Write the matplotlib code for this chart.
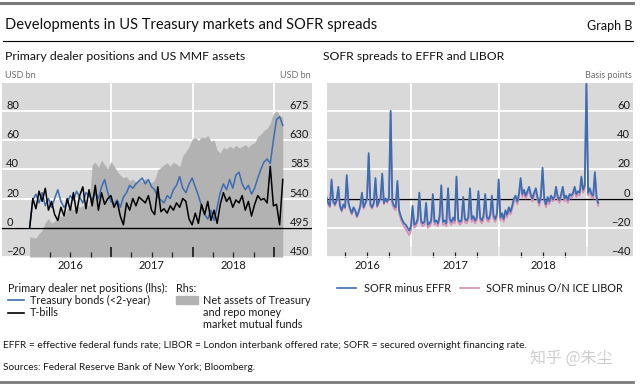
import numpy as np
import pandas as pd
import matplotlib
matplotlib.use('Agg')
import matplotlib.pyplot as plt
import matplotlib.dates as mdates
from matplotlib.lines import Line2D
from matplotlib.patches import Rectangle

plt.rcParams['font.family'] = ['Lato', 'DejaVu Sans']

# ---- left panel: primary dealer positions (lhs, USD bn) and MMF assets (rhs, USD bn), biweekly
dealer_start = '2016-01-01'
tsy_bonds = [0, 19, 23, 17, 24, 15, 20, 14, 20, 26,
             18, 14, 17, 22, 19, 25, 21, 17, 24, 22,
             19, 24, 20, 28, 33, 24, 18, 16, 19, 14,
             21, 24, 29, 27, 30, 32, 34, 30, 33, 28,
             26, 21, 19, 17, 22, 20, 26, 29, 35, 27,
             24, 30, 34, 28, 22, 15, 9, 6, 12, 5,
             14, 24, 30, 26, 33, 27, 36, 38, 30, 26,
             29, 23, 27, 34, 40, 45, 47, 44, 60, 74,
             76, 70]
t_bills = [0, 20, 13, 25, 18, 27, 12, 18, 9, 5,
           14, 8, 20, 12, 24, 10, 22, 28, 13, 26,
           15, 29, 12, 24, 16, 20, 22, 14, 18, 8,
           2, 17, 12, 20, 15, 21, 19, 17, 22, 12,
           9, 28, 11, 13, 10, 15, 12, 17, 14, 20,
           18, 6, 2, 10, 3, 16, 9, 18, 5, 12,
           3, 16, 24, 18, 21, 14, 19, 17, 22, 12,
           18, 8, 16, 22, 19, 20, 17, 42, 15, 16,
           2, 33]
mmf_assets = [481, 480, 479, 486, 491, 503, 509, 502, 505, 512,
              513, 511, 524, 527, 522, 530, 526, 529, 531, 528,
              592, 596, 588, 599, 592, 586, 597, 590, 582, 576,
              572, 574, 567, 570, 565, 569, 566, 571, 567, 564,
              569, 584, 588, 592, 595, 590, 596, 593, 589, 606,
              612, 620, 631, 634, 629, 635, 633, 637, 628, 630,
              614, 610, 619, 616, 621, 617, 622, 618, 620, 623,
              619, 624, 626, 635, 639, 645, 648, 656, 671, 675,
              668, 665]

# ---- right panel: SOFR spreads (basis points), weekly
sofr_start = '2016-01-01'
sofr_effr = [0, -2, 1, -3, -5, 13, -2, -4, -1, 8,
             -5, -8, -4, -6, 16, -3, -7, -10, -6, -8,
             -12, -9, -5, 4, -6, -3, 0, 31, -4, -6,
             -3, 14, -5, -2, 0, 17, -3, 0, -2, 1,
             60, -2, -5, -6, 12, -8, -12, -15, -17, -18,
             -20, -22, -19, -5, -18, -17, -14, 4, -15, -17,
             -16, -3, -18, -17, -15, 3, -16, -15, -17, -12,
             9, -16, -15, -17, 7, -14, -16, -13, -15, 15,
             -14, -16, -15, 1, -14, -15, -13, 7, -14, -12,
             -15, -13, 5, -13, -15, -12, 3, -13, -14, -11,
             2, -12, -14, -10, 13, -13, -10, -14, -8, -11,
             -6, -9, -5, 0, 2, -2, 3, 14, 3, 6,
             2, 5, 8, 3, 0, 4, 7, 1, -3, 2,
             21, 0, -4, 1, -2, 2, 0, 1, 8, 1,
             -1, 3, 8, 0, 2, -1, 3, 2, 4, 8,
             3, 5, 4, 15, 6, 9, 80, 4, 7, 3,
             2, 18, 1, -3]
sofr_libor = [-1, -3, 0, -4, -6, 11, -3, -5, -2, 6,
              -6, -9, -5, -7, 14, -4, -8, -11, -7, -9,
              -13, -10, -6, 2, -7, -4, -1, 29, -5, -7,
              -4, 12, -6, -3, -1, 15, -4, -1, -3, 0,
              58, -4, -7, -8, 10, -10, -14, -17, -19, -21,
              -23, -25, -22, -7, -20, -19, -16, 2, -17, -19,
              -18, -5, -20, -19, -17, 1, -18, -17, -19, -14,
              7, -18, -17, -19, 5, -16, -18, -15, -17, 13,
              -16, -18, -17, -1, -16, -17, -15, 5, -16, -14,
              -17, -15, 3, -15, -17, -14, 1, -15, -16, -13,
              0, -14, -16, -12, 11, -15, -12, -16, -10, -13,
              -8, -11, -7, -2, 0, -4, 1, 12, 1, 4,
              0, 3, 6, 1, -2, 2, 5, -1, -5, 0,
              19, -2, -6, -1, -4, 0, -2, -1, 6, -1,
              -3, 1, 6, -2, 0, -3, 1, 0, 2, 6,
              1, 3, 2, 13, 4, 7, 78, 2, 5, 1,
              0, 16, -1, -5]

year_labels = ['2016', '2017', '2018']
lhs_ticks = [-20, 0, 20, 40, 60, 80]
rhs_ticks = [450, 495, 540, 585, 630, 675]
bp_ticks = [-40, -20, 0, 20, 40, 60]

BG = '#d9d9d9'
FILL = '#b2b2b2'
BLUE = '#3b6db4'
PINK = '#d88fb6'
GREY_TXT = '#6e6e6e'

dealer_dates = pd.date_range(dealer_start, periods=len(tsy_bonds), freq='14D')
sofr_dates = pd.date_range(sofr_start, periods=len(sofr_effr), freq='7D')

year_edges = pd.to_datetime(['2017-01-01', '2018-01-01', '2019-01-01'])
quarters = pd.to_datetime(['2016-04-01', '2016-07-01', '2016-10-01',
                           '2017-04-01', '2017-07-01', '2017-10-01',
                           '2018-04-01', '2018-07-01', '2018-10-01'])
mid_years = pd.to_datetime(['2016-07-01', '2017-07-01', '2018-07-01'])

W, H = 640, 387
fig = plt.figure(figsize=(6.4, 3.87), dpi=100)


def box(x0, y0, x1, y1):
    return [x0 / W, 1 - y1 / H, (x1 - x0) / W, (y1 - y0) / H]


def fx(x):
    return x / W


def fy(y):
    return 1 - y / H


def style_xaxis(ax):
    ax.xaxis.set_major_locator(matplotlib.ticker.FixedLocator(mdates.date2num(year_edges)))
    ax.xaxis.set_minor_locator(matplotlib.ticker.FixedLocator(mdates.date2num(quarters)))
    ax.tick_params(axis='x', which='major', direction='in', length=7.5, width=1.3,
                   color='#222222', labelbottom=False)
    ax.tick_params(axis='x', which='minor', direction='in', length=3.6, width=0.9,
                   color='#222222')
    sec = ax.secondary_xaxis('bottom')
    sec.set_xticks(mdates.date2num(mid_years), labels=year_labels)
    sec.tick_params(length=0, pad=2.5, labelsize=8, colors='#1a1a1a')
    sec.spines['bottom'].set_visible(False)


# ---------------- left panel ----------------
ax = fig.add_axes(box(2, 83, 312, 257))
ax2 = ax.twinx()
ax.set_zorder(3)
ax.patch.set_visible(False)
ax2.set_zorder(1)
ax2.patch.set_visible(True)
ax2.set_facecolor(BG)

ax.set_ylim(-20, 99)
ax2.set_ylim(450, 450 + 119 * 2.25)
ax.set_xlim(pd.Timestamp('2015-08-30'), pd.Timestamp('2019-06-19'))

ax2.set_axisbelow(True)
ax2.set_yticks(rhs_ticks)
ax2.grid(axis='y', color='white', lw=1.3)
for d in year_edges:
    ax2.axvline(d, color='white', lw=1.3, zorder=0.6)
ax2.fill_between(dealer_dates, 450, mmf_assets, color=FILL, lw=0, zorder=1)
ax2.tick_params(axis='y', length=0, pad=-2, labelsize=8, colors='#1a1a1a')
for lab in ax2.get_yticklabels():
    lab.set_horizontalalignment('right')
    lab.set_verticalalignment('bottom')

ax.axhline(0, color='black', lw=1.0, zorder=2)
ax.plot(dealer_dates, tsy_bonds, color=BLUE, lw=1.1, zorder=3)
ax.plot(dealer_dates, t_bills, color='black', lw=1.1, zorder=4)
ax.set_yticks(lhs_ticks)
ax.tick_params(axis='y', length=0, pad=-3, labelsize=8, colors='#1a1a1a')
for lab in ax.get_yticklabels():
    lab.set_horizontalalignment('left')
    lab.set_verticalalignment('bottom')
style_xaxis(ax)
for a in (ax, ax2):
    for s in a.spines.values():
        s.set_visible(False)

# ---------------- right panel ----------------
ax3 = fig.add_axes(box(326.5, 83, 633, 257))
ax3.set_facecolor(BG)
ax3.set_ylim(-40, 79)
ax3.set_xlim(pd.Timestamp('2016-01-15'), pd.Timestamp('2019-07-09'))
ax3.set_axisbelow(True)
ax3.yaxis.tick_right()
ax3.set_yticks(bp_ticks)
ax3.grid(axis='y', color='white', lw=1.3)
for d in year_edges:
    ax3.axvline(d, color='white', lw=1.3, zorder=0.6)
ax3.axhline(0, color='black', lw=1.0, zorder=2)
ax3.plot(sofr_dates, sofr_libor, color=PINK, lw=1.3, zorder=3)
ax3.plot(sofr_dates, sofr_effr, color=BLUE, lw=1.3, zorder=4)
ax3.tick_params(axis='y', length=0, pad=-2, labelsize=8, colors='#1a1a1a')
for lab in ax3.get_yticklabels():
    lab.set_horizontalalignment('right')
    lab.set_verticalalignment('bottom')
style_xaxis(ax3)
for s in ax3.spines.values():
    s.set_visible(False)

# ---------------- titles, rules ----------------
fig.add_artist(Line2D([0, fx(633)], [fy(3), fy(3)], color='#7a7a7a', lw=2.2))
fig.text(fx(5), fy(29.5), 'Developments in US Treasury markets and SOFR spreads',
         fontsize=10.6, color='#111111', va='baseline')
fig.text(fx(632), fy(29.5), 'Graph B', fontsize=9, color='#111111',
         ha='right', va='baseline')
fig.add_artist(Line2D([fx(3), fx(633)], [fy(41), fy(41)], color='black', lw=0.8))
fig.text(fx(5), fy(60), 'Primary dealer positions and US MMF assets',
         fontsize=8.8, color='#111111', va='baseline')
fig.text(fx(323), fy(60), 'SOFR spreads to EFFR and LIBOR',
         fontsize=8.7, color='#111111', va='baseline')
fig.text(fx(5), fy(78), 'USD bn', fontsize=6.5, color=GREY_TXT, va='baseline')
fig.text(fx(311), fy(78), 'USD bn', fontsize=6.5, color=GREY_TXT, va='baseline', ha='right')
fig.text(fx(632), fy(78), 'Basis points', fontsize=6.5, color=GREY_TXT, va='baseline', ha='right')

# ---------------- legends ----------------
lg = dict(fontsize=7.8, color='#1a1a1a', va='center')
fig.text(fx(8), fy(288), 'Primary dealer net positions (lhs):', **lg)
fig.add_artist(Line2D([fx(8), fx(24)], [fy(300), fy(300)], color=BLUE, lw=1.2))
fig.text(fx(30), fy(300), 'Treasury bonds (<2-year)', **lg)
fig.add_artist(Line2D([fx(8), fx(24)], [fy(313), fy(313)], color='black', lw=1.2))
fig.text(fx(30), fy(313), 'T-bills', **lg)
fig.text(fx(176), fy(288), 'Rhs:', **lg)
fig.add_artist(Rectangle((fx(176), fy(304)), fx(22), 8 / H, color=FILL,
                         transform=fig.transFigure))
fig.text(fx(203), fy(300), 'Net assets of Treasury', **lg)
fig.text(fx(203), fy(312), 'and repo money', **lg)
fig.text(fx(203), fy(324), 'market mutual funds', **lg)

fig.add_artist(Line2D([fx(337), fx(356)], [fy(288), fy(288)], color=BLUE, lw=1.2))
fig.text(fx(364), fy(288), 'SOFR minus EFFR', **lg)
fig.add_artist(Line2D([fx(460), fx(479)], [fy(288), fy(288)], color=PINK, lw=1.2))
fig.text(fx(486), fy(288), 'SOFR minus O/N ICE LIBOR', **lg)

# ---------------- footnotes ----------------
fig.text(fx(3), fy(346), 'EFFR = effective federal funds rate; LIBOR = London interbank offered rate; '
         'SOFR = secured overnight financing rate.', fontsize=7.3, color='#1a1a1a', va='center')
fig.text(fx(3), fy(368), 'Sources: Federal Reserve Bank of New York; Bloomberg.',
         fontsize=7.3, color='#1a1a1a', va='center')
fig.text(fx(530), fy(358), '知乎 @朱尘', fontsize=11.5, color='#cfcfcf', va='center',
         family=['Noto Sans CJK SC', 'DejaVu Sans'])
fig.add_artist(Line2D([0, fx(633)], [fy(382), fy(382)], color='#7a7a7a', lw=2.0))

fig.savefig('out.png', dpi=100)
